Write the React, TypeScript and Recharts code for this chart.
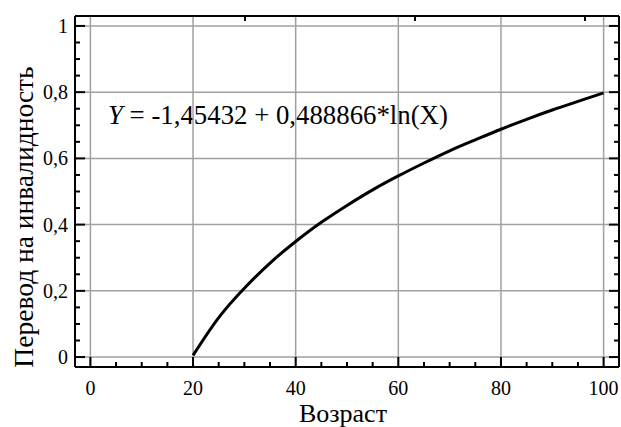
import React from 'react';
import { LineChart, Line, XAxis, YAxis, ReferenceLine, Customized } from 'recharts';

const ages = [20, 25, 30, 35, 40, 45, 50, 55, 60, 65, 70, 75, 80, 85, 90, 95, 100];
const transfer = [0.005, 0.119, 0.208, 0.284, 0.349, 0.407, 0.458, 0.505, 0.547, 0.586, 0.623, 0.656, 0.688, 0.718, 0.746, 0.772, 0.798];
const xMajorTicks = [0, 20, 40, 60, 80, 100];
const xAllTicks = [0, 5, 10, 15, 20, 25, 30, 35, 40, 45, 50, 55, 60, 65, 70, 75, 80, 85, 90, 95, 100];
const yMajorTicks = [0, 0.2, 0.4, 0.6, 0.8, 1];
const yAllTicks = [0, 0.05, 0.1, 0.15, 0.2, 0.25, 0.3, 0.35, 0.4, 0.45, 0.5, 0.55, 0.6, 0.65, 0.7, 0.75, 0.8, 0.85, 0.9, 0.95, 1];
const xTitle = 'Возраст';
const yTitle = 'Перевод на инвалидность';
const equation = ' = -1,45432 + 0,488866*ln(X)';

const data = ages.map((x, i) => ({ x, y: transfer[i] }));

const FONT = 'Liberation Serif';
const fontStyle = { fontFamily: FONT };
const X_DOMAIN: [number, number] = [-3, 103];
const Y_DOMAIN: [number, number] = [-0.03, 1.03];
const fmt = (v: number) => String(v).replace('.', ',');
const frame = { stroke: '#000', strokeWidth: 2 };
const MAJOR = 10;
const MINOR = 5;
const isMajorX = (v: number) => xMajorTicks.includes(v);
const isMajorY = (v: number) => yMajorTicks.some((t) => Math.abs(t - v) < 1e-9);

const BottomTick = (p: any) => {
  const v = p.payload.value;
  const major = isMajorX(v);
  return (
    <g>
      <line x1={p.x} x2={p.x} y1={p.y} y2={p.y - (major ? MAJOR : MINOR)} stroke="#000" strokeWidth={2} />
      {major && (
        <text x={p.x} y={p.y + 28} textAnchor="middle" fontFamily={FONT} style={fontStyle} fontSize={20} fill="#000">{fmt(v)}</text>
      )}
    </g>
  );
};
const TopTick = (p: any) => {
  const major = isMajorX(p.payload.value);
  return <line x1={p.x} x2={p.x} y1={p.y} y2={p.y + (major ? MAJOR : MINOR)} stroke="#000" strokeWidth={2} />;
};
const LeftTick = (p: any) => {
  const v = p.payload.value;
  const major = isMajorY(v);
  return (
    <g>
      <line x1={p.x} x2={p.x + (major ? MAJOR : MINOR)} y1={p.y} y2={p.y} stroke="#000" strokeWidth={2} />
      {major && (
        <text x={p.x - 7} y={p.y + 7} textAnchor="end" fontFamily={FONT} style={fontStyle} fontSize={20} fill="#000">{fmt(v)}</text>
      )}
    </g>
  );
};
const RightTick = (p: any) => {
  const major = isMajorY(p.payload.value);
  return <line x1={p.x} x2={p.x - (major ? MAJOR : MINOR)} y1={p.y} y2={p.y} stroke="#000" strokeWidth={2} />;
};

const Texts = () => (
  <g fill="#000">
    <text x={108} y={124} fontSize={26.8} fontFamily={FONT} style={fontStyle}>
      <tspan fontStyle="italic">Y</tspan>
      <tspan>{equation}</tspan>
    </text>
    <text x={343} y={422} fontSize={26} textAnchor="middle" fontFamily={FONT} style={fontStyle}>{xTitle}</text>
    <text transform="translate(33,217) rotate(-90)" x={0} y={0} fontSize={27.5} textAnchor="middle" fontFamily={FONT} style={fontStyle}>{yTitle}</text>
  </g>
);

export default function App() {
  return (
    <div style={{ position: 'absolute', left: 0, top: 0, width: 621, height: 427, background: '#fff' }}>
      <LineChart width={621} height={427} data={data} margin={{ top: 0, right: 0, bottom: 0, left: 0 }}>
        <XAxis xAxisId="x" type="number" dataKey="x" domain={X_DOMAIN} ticks={xAllTicks} allowDataOverflow
          height={60} tickSize={0} tickMargin={0} axisLine={frame} tickLine={false} tick={<BottomTick />} interval={0} />
        <XAxis xAxisId="xtop" orientation="top" type="number" domain={X_DOMAIN} ticks={xAllTicks} allowDataOverflow
          height={16} tickSize={0} tickMargin={0} axisLine={frame} tickLine={false} tick={<TopTick />} interval={0} />
        <YAxis yAxisId="y" type="number" domain={Y_DOMAIN} ticks={yAllTicks} allowDataOverflow
          width={75} tickSize={0} tickMargin={0} axisLine={frame} tickLine={false} tick={<LeftTick />} interval={0} />
        <YAxis yAxisId="yright" orientation="right" type="number" domain={Y_DOMAIN} ticks={yAllTicks} allowDataOverflow
          width={2} tickSize={0} tickMargin={0} axisLine={frame} tickLine={false} tick={<RightTick />} interval={0} />
        {xMajorTicks.map((t) => (
          <ReferenceLine key={'gx' + t} xAxisId="x" yAxisId="y" x={t} stroke="#a0a0a0" strokeWidth={1.5} />
        ))}
        {yMajorTicks.map((t) => (
          <ReferenceLine key={'gy' + t} xAxisId="x" yAxisId="y" y={t} stroke="#a0a0a0" strokeWidth={1.5} />
        ))}
        <Line xAxisId="x" yAxisId="y" type="natural" dataKey="y" stroke="#000" strokeWidth={3}
          dot={false} isAnimationActive={false} />
        <Customized component={Texts} />
      </LineChart>
    </div>
  );
}
